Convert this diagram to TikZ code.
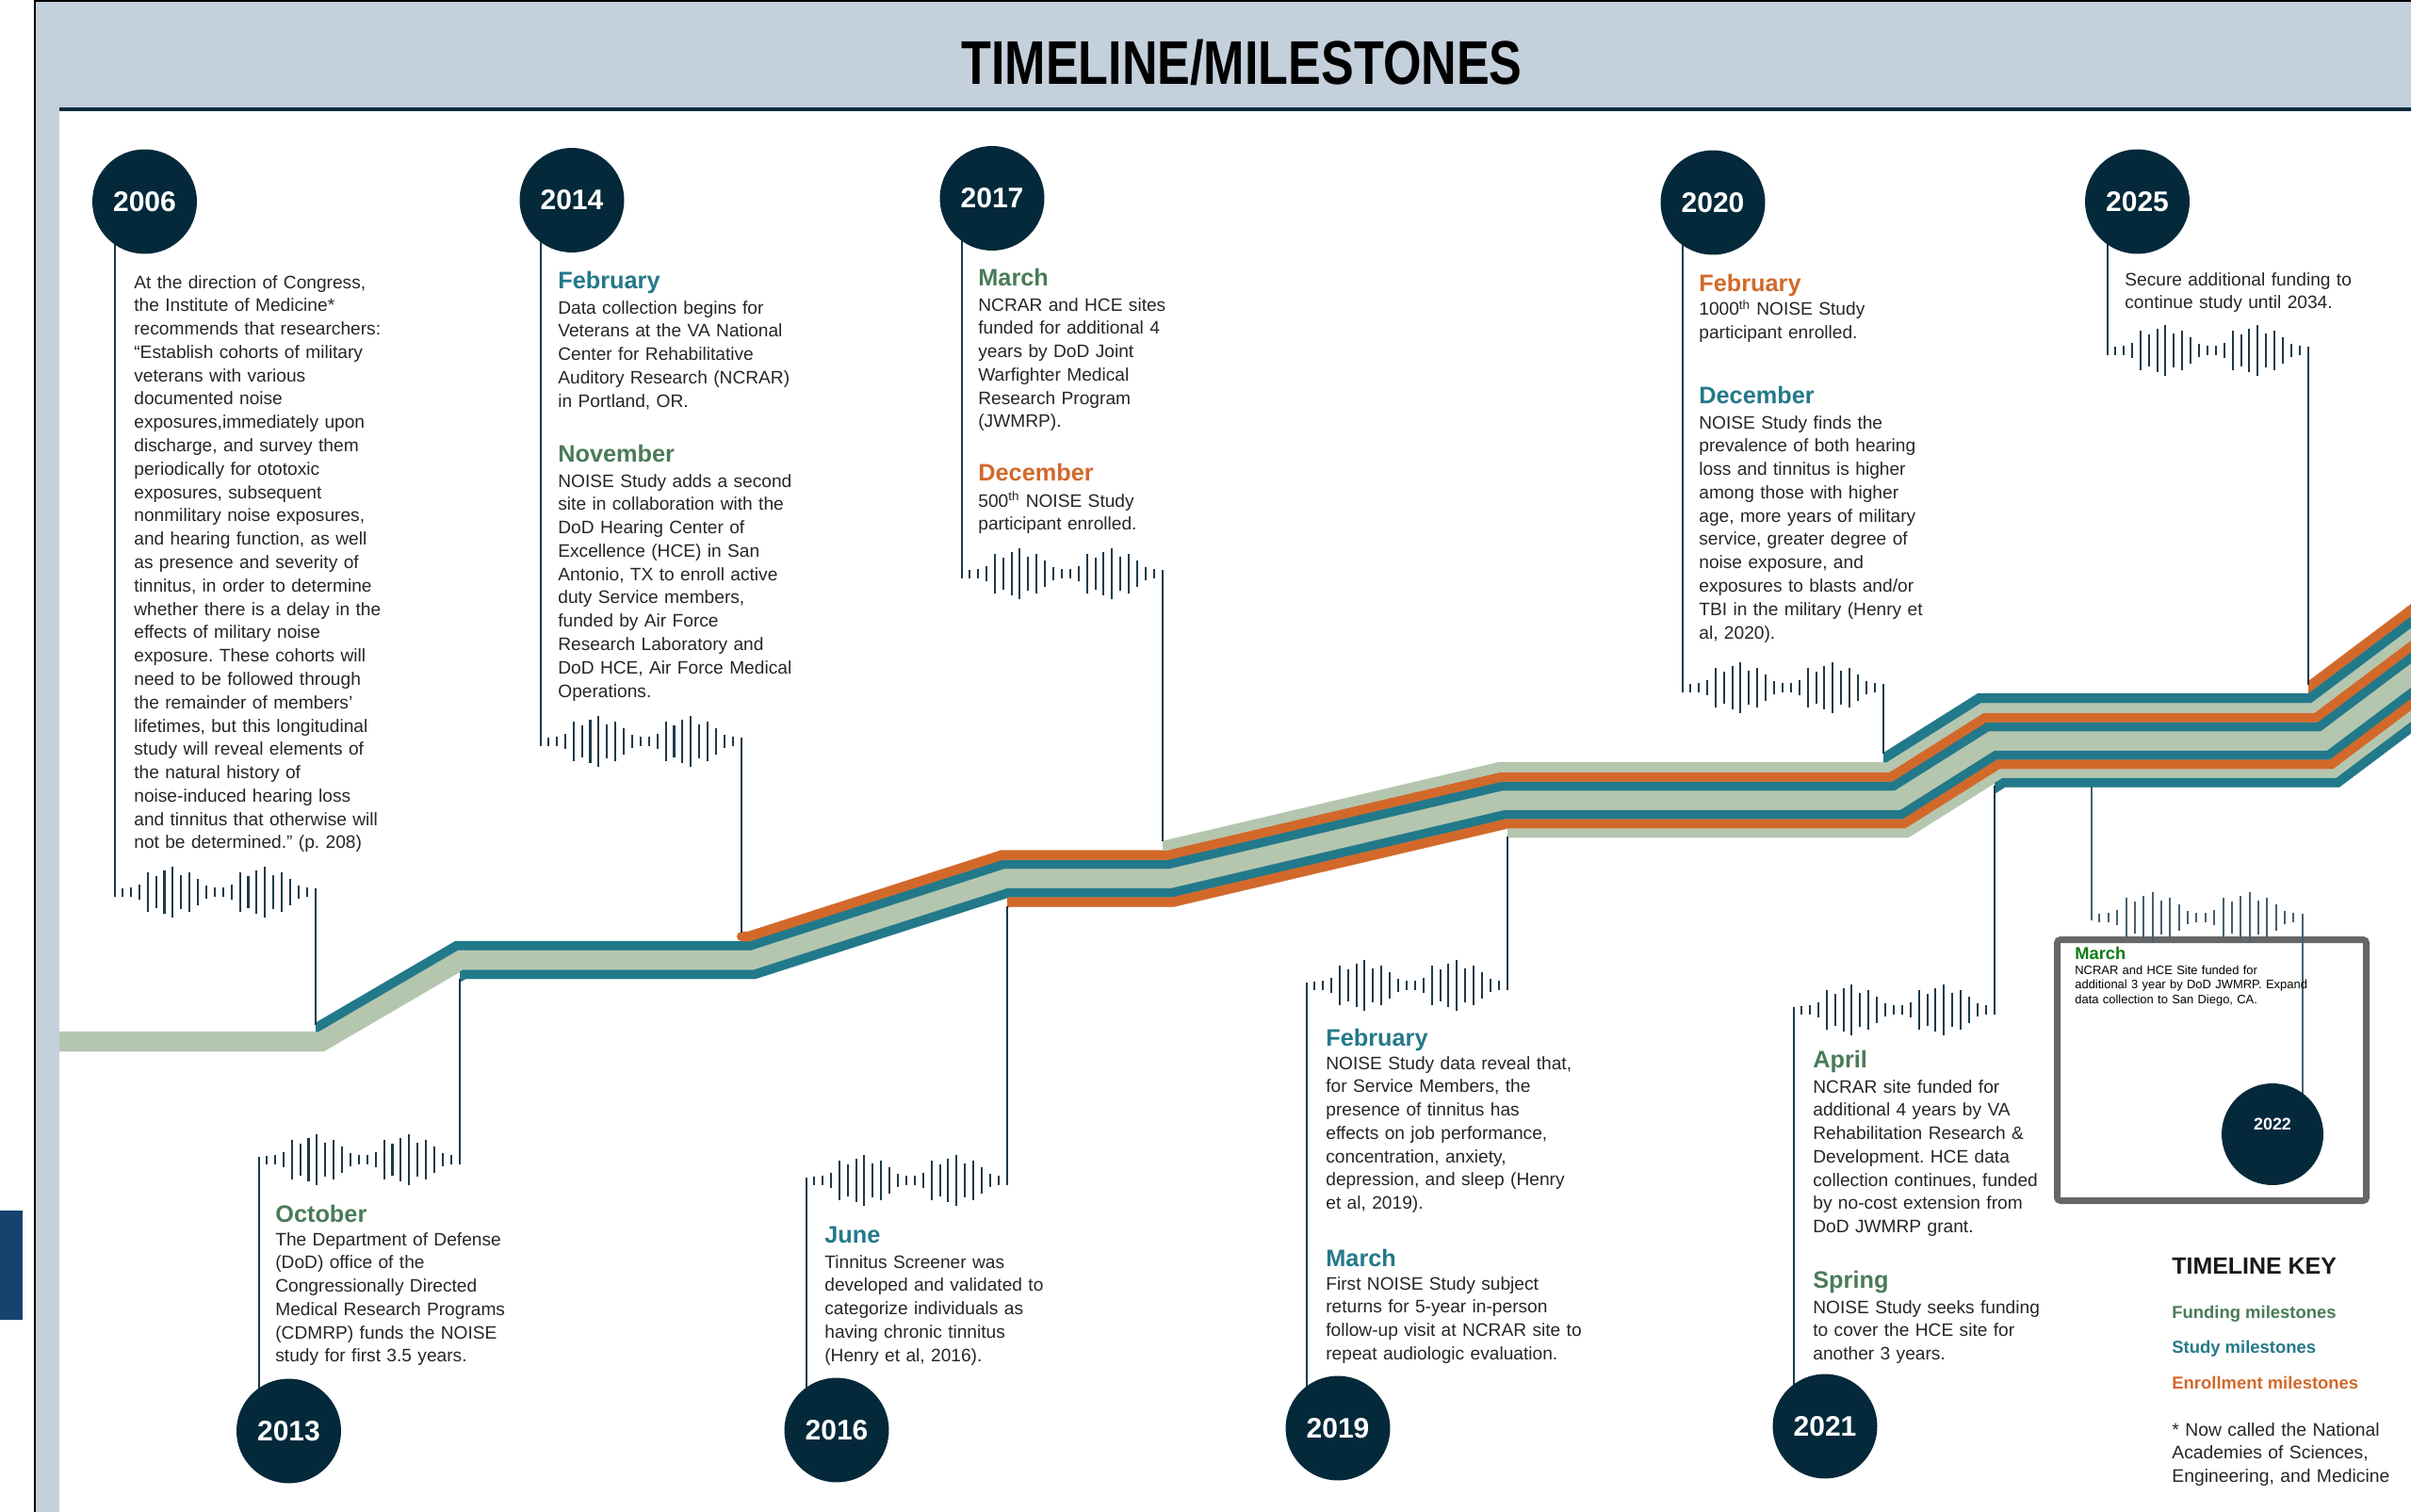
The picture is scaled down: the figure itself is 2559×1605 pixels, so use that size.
\documentclass[tikz,border=0pt]{standalone}
\usepackage{fontspec}
\setmainfont{Liberation Sans}
\usepackage{graphicx}
\frenchspacing

\definecolor{hdrblue}{HTML}{C4D0DC}
\definecolor{rulecol}{HTML}{0B2B3B}
\definecolor{tabblue}{HTML}{15436E}
\definecolor{navy}{HTML}{04293A}
\definecolor{linecol}{HTML}{1D3A4A}
\definecolor{linelight}{HTML}{46606F}
\definecolor{bteal}{HTML}{22798A}
\definecolor{borange}{HTML}{D2692A}
\definecolor{bsage}{HTML}{B5C6AF}
\definecolor{hgreen}{HTML}{4A7B57}
\definecolor{hteal}{HTML}{24798A}
\definecolor{horange}{HTML}{D2692A}
\definecolor{bodygray}{HTML}{262626}
\definecolor{boxgray}{HTML}{666666}
\definecolor{brightgreen}{HTML}{0E7A12}

\pgfdeclarelayer{under}
\pgfsetlayers{under,main}

% font sizes (1 unit = 0.02cm)
\newcommand\ftitle{\fontsize{37.3pt}{40pt}\selectfont\bfseries}
\newcommand\fbody{\fontsize{10.9pt}{14.11pt}\selectfont}
\newcommand\fhead{\fontsize{14.4pt}{17pt}\selectfont\bfseries}
\newcommand\fyear{\fontsize{17.1pt}{20pt}\selectfont\bfseries}
\newcommand\fyearsmall{\fontsize{10.2pt}{12pt}\selectfont\bfseries}
\newcommand\fkeyhead{\fontsize{14.2pt}{16pt}\selectfont\bfseries}
\newcommand\fkey{\fontsize{10.5pt}{13pt}\selectfont\bfseries}
\newcommand\fnote{\fontsize{11pt}{14.2pt}\selectfont}
\newcommand\fboxhead{\fontsize{10.4pt}{12pt}\selectfont\bfseries}
\newcommand\fboxbody{\fontsize{7.37pt}{9.1pt}\selectfont}

% one coloured strip of the stepped band, offset #2..#3 from the base line, starting at x=#4
\newcommand\bandstrip[4]{%
  \begin{scope}
    \clip (#4,118) rectangle (2559,1605);
    \filldraw[fill=#1, draw=#1, line width=0.2pt]
      (40,{1095+(#2)})
      -- ({338+0.2708*(#2)},{1095+(#2)})
      -- ({486+0.2708*(#2)},{1008.5+(#2)})
      -- ({797+0.1568*(#2)},{1008.5+(#2)})
      -- ({1066+0.1568*(#2)},{922+(#2)})
      -- ({1241+0.1157*(#2)},{922+(#2)})
      -- ({1595+0.1157*(#2)},{839+(#2)})
      -- ({2011+0.2887*(#2)},{839+(#2)})
      -- ({2111+0.2887*(#2)},{776+(#2)})
      -- ({2463+0.3337*(#2)},{776+(#2)})
      -- (2700,{598+1.2506*(#2)})
      -- (2700,{598+1.2506*(#3)})
      -- ({2463+0.3337*(#3)},{776+(#3)})
      -- ({2111+0.2887*(#3)},{776+(#3)})
      -- ({2011+0.2887*(#3)},{839+(#3)})
      -- ({1595+0.1157*(#3)},{839+(#3)})
      -- ({1241+0.1157*(#3)},{922+(#3)})
      -- ({1066+0.1568*(#3)},{922+(#3)})
      -- ({797+0.1568*(#3)},{1008.5+(#3)})
      -- ({486+0.2708*(#3)},{1008.5+(#3)})
      -- ({338+0.2708*(#3)},{1095+(#3)})
      -- (40,{1095+(#3)}) -- cycle;
  \end{scope}}

% sound-wave glyph: left end #1, centre line #2, horizontal scale #3, colour #4
\newcommand\wavemark[4]{%
  \foreach \i/\h in {0/9,1/10.7,2/16.7,3/41.3,4/34,5/46.7,6/54.7,7/36.7,8/41.3,9/28.3,10/13.3,11/10,12/10,13/16.7,14/41.3,15/34,16/46.7,17/53.3,18/36.7,19/41.3,20/28.3,21/14,22/10.7}
    \draw[wavebar,#4] ({#1+(8+8.9*\i)*#3},{#2-\h/2}) -- ++(0,\h);}

\begin{document}
\begin{tikzpicture}[x=0.02cm,y=-0.02cm,
  yearcirc/.style={circle, fill=navy, minimum size=2.22cm, inner sep=0pt, text=white, font=\fyear},
  head/.style={anchor=base west, inner sep=0pt, font=\fhead},
  body/.style={anchor=base west, inner sep=0pt, align=left, text width=9cm, font=\fbody, text=bodygray},
  conn/.style={draw=linecol, line width=1.1pt},
  connlight/.style={draw=linelight, line width=1.1pt},
  wavebar/.style={line width=1.15pt}]
\useasboundingbox (0,0) rectangle (2559,1605);

% ---------- year markers ----------
\node[yearcirc] (c06) at (153.5,214) {2006};
\node[yearcirc] (c14) at (607,212.5) {2014};
\node[yearcirc] (c17) at (1053,210.5) {2017};
\node[yearcirc] (c20) at (1818,215) {2020};
\node[yearcirc] (c25) at (2268.5,214) {2025};
\node[yearcirc] (c13) at (306.5,1519) {2013};
\node[yearcirc] (c16) at (888,1518) {2016};
\node[yearcirc] (c19) at (1420,1516) {2019};
\node[yearcirc] (c21) at (1937,1514) {2021};
\node[yearcirc, minimum size=2.16cm] (c22) at (2412,1204) {};
\node[text=white, font=\fyearsmall, inner sep=0pt] (t22) at (2412,1193) {2022};

% ---------- waveform end points and band attachment points ----------
\coordinate (w06a) at (122,952);  \coordinate (w06b) at (335,943);  \coordinate (s06) at (335,1088);
\coordinate (w14a) at (574,792);  \coordinate (w14b) at (787,783);  \coordinate (s14) at (787,990);
\coordinate (w17a) at (1021,614); \coordinate (w17b) at (1234,605); \coordinate (s17) at (1234,893);
\coordinate (w20a) at (1786,735); \coordinate (w20b) at (1999,726); \coordinate (s20) at (1999,800);
\coordinate (w25a) at (2237,377); \coordinate (w25b) at (2450,368); \coordinate (s25) at (2450,727);
\coordinate (w13a) at (275,1228); \coordinate (w13b) at (488,1236); \coordinate (s13) at (488,1039);
\coordinate (w16a) at (856,1250); \coordinate (w16b) at (1069,1258); \coordinate (s16) at (1069,962);
\coordinate (w19a) at (1387,1043); \coordinate (w19b) at (1600,1051); \coordinate (s19) at (1600,888);
\coordinate (w21a) at (1904,1069); \coordinate (w21b) at (2117,1077); \coordinate (s21) at (2117,834);
\coordinate (w22a) at (2220,977); \coordinate (w22b) at (2444,970); \coordinate (s22) at (2220,835);

\begin{pgfonlayer}{under}
  % page and frame
  \fill[white] (0,0) rectangle (2559,1605);
  \fill[hdrblue] (37,0) rectangle (2559,115);
  \fill[hdrblue] (37,0) rectangle (63,1605);
  \fill[rulecol] (63,114) rectangle (2559,118);
  \draw[black, line width=1.1pt] (37,1605) -- (37,1) -- (2559,1);
  \fill[tabblue] (0,1285) rectangle (24,1401);

  % stepped milestone band
  \bandstrip{bsage}{0}{21}{63}
  \bandstrip{bteal}{-9.5}{0}{335}
  \bandstrip{bteal}{21}{30.5}{488}
  \bandstrip{borange}{-19.5}{-9.5}{787}
  \fill[borange] (787,994) circle (5);
  \bandstrip{borange}{30.5}{40.5}{1069}
  \bandstrip{bsage}{-30}{-19.5}{1234}
  \bandstrip{bsage}{40.5}{50}{1600}
  \bandstrip{bteal}{-40}{-30}{1999}
  \bandstrip{bteal}{50}{59.5}{2117}
  \bandstrip{borange}{-50}{-40}{2450}

  % 2022 frame
  \draw[boxgray, line width=3.98pt, rounded corners=2pt] (2183.5,997.5) rectangle (2511.5,1274.5);

  % connectors
  \draw[conn] (w06a |- c06) -- (w06a);  \draw[conn] (w06b) -- (s06);
  \draw[conn] (w14a |- c14) -- (w14a);  \draw[conn] (w14b) -- (s14);
  \draw[conn] (w17a |- c17) -- (w17a);  \draw[conn] (w17b) -- (s17);
  \draw[conn] (w20a |- c20) -- (w20a);  \draw[conn] (w20b) -- (s20);
  \draw[conn] (w25a |- c25) -- (w25a);  \draw[conn] (w25b) -- (s25);
  \draw[conn] (w13a) -- (w13a |- c13);  \draw[conn] (w13b) -- (s13);
  \draw[conn] (w16a) -- (w16a |- c16);  \draw[conn] (w16b) -- (s16);
  \draw[conn] (w19a) -- (w19a |- c19);  \draw[conn] (w19b) -- (s19);
  \draw[conn] (w21a) -- (w21a |- c21);  \draw[conn] (w21b) -- (s21);
  \draw[connlight] (s22) -- (w22a);     \draw[connlight] (w22b) -- (w22b |- c22);

  % sound-wave glyphs
  \wavemark{122}{947}{1}{linecol}
  \wavemark{574}{787}{1}{linecol}
  \wavemark{1021}{609}{1}{linecol}
  \wavemark{1786}{730}{1}{linecol}
  \wavemark{2237}{372}{1}{linecol}
  \wavemark{275}{1231}{1}{linecol}
  \wavemark{856}{1253}{1}{linecol}
  \wavemark{1387}{1046}{1}{linecol}
  \wavemark{1904}{1072}{1}{linecol}
  \wavemark{2220}{974}{1.052}{linelight}
\end{pgfonlayer}

% ---------- title ----------
\node[anchor=base, inner sep=0pt, font=\ftitle, text=black] (title) at (1318,90)
  {\scalebox{0.795}[1]{TIMELINE/MILESTONES}};

% ---------- 2006 ----------
\node[body] (b06) at (142,306) {At the direction of Congress,\\
the Institute of Medicine*\\
recommends that researchers:\\
“Establish cohorts of military\\
veterans with various\\
documented noise\\
exposures,immediately upon\\
discharge, and survey them\\
periodically for ototoxic\\
exposures, subsequent\\
nonmilitary noise exposures,\\
and hearing function, as well\\
as presence and severity of\\
tinnitus, in order to determine\\
whether there is a delay in the\\
effects of military noise\\
exposure. These cohorts will\\
need to be followed through\\
the remainder of members’\\
lifetimes, but this longitudinal\\
study will reveal elements of\\
the natural history of\\
noise-induced hearing loss\\
and tinnitus that otherwise will\\
not be determined.” (p. 208)};

% ---------- 2014 ----------
\node[head, text=hteal] (h14a) at (592,306) {February};
\node[body] (b14a) at (592,333) {Data collection begins for\\
Veterans at the VA National\\
Center for Rehabilitative\\
Auditory Research (NCRAR)\\
in Portland, OR.};
\node[head, text=hgreen] (h14b) at (592,490) {November};
\node[body] (b14b) at (592,517) {NOISE Study adds a second\\
site in collaboration with the\\
DoD Hearing Center of\\
Excellence (HCE) in San\\
Antonio, TX to enroll active\\
duty Service members,\\
funded by Air Force\\
Research Laboratory and\\
DoD HCE, Air Force Medical\\
Operations.};

% ---------- 2017 ----------
\node[head, text=hgreen] (h17a) at (1038,303) {March};
\node[body] (b17a) at (1038,330) {NCRAR and HCE sites\\
funded for additional 4\\
years by DoD Joint\\
Warfighter Medical\\
Research Program\\
(JWMRP).};
\node[head, text=horange] (h17b) at (1038,510) {December};
\node[body] (b17b) at (1038,538) {500\textsuperscript{th} NOISE Study\\
participant enrolled.};

% ---------- 2020 ----------
\node[head, text=horange] (h20a) at (1803,309) {February};
\node[body] (b20a) at (1803,335) {1000\textsuperscript{th} NOISE Study\\
participant enrolled.};
\node[head, text=hteal] (h20b) at (1803,428) {December};
\node[body] (b20b) at (1803,455) {NOISE Study finds the\\
prevalence of both hearing\\
loss and tinnitus is higher\\
among those with higher\\
age, more years of military\\
service, greater degree of\\
noise exposure, and\\
exposures to blasts and/or\\
TBI in the military (Henry et\\
al, 2020).};

% ---------- 2025 ----------
\node[body] (b25) at (2255,303) {Secure additional funding to\\
continue study until 2034.};

% ---------- 2013 ----------
\node[head, text=hgreen] (h13) at (292,1297) {October};
\node[body] (b13) at (292,1322) {The Department of Defense\\
(DoD) office of the\\
Congressionally Directed\\
Medical Research Programs\\
(CDMRP) funds the NOISE\\
study for first 3.5 years.};

% ---------- 2016 ----------
\node[head, text=hteal] (h16) at (875,1319) {June};
\node[body] (b16) at (875,1346) {Tinnitus Screener was\\
developed and validated to\\
categorize individuals as\\
having chronic tinnitus\\
(Henry et al, 2016).};

% ---------- 2019 ----------
\node[head, text=hteal] (h19a) at (1407,1110) {February};
\node[body] (b19a) at (1407,1135) {NOISE Study data reveal that,\\
for Service Members, the\\
presence of tinnitus has\\
effects on job performance,\\
concentration, anxiety,\\
depression, and sleep (Henry\\
et al, 2019).};
\node[head, text=hteal] (h19b) at (1407,1344) {March};
\node[body] (b19b) at (1407,1369) {First NOISE Study subject\\
returns for 5-year in-person\\
follow-up visit at NCRAR site to\\
repeat audiologic evaluation.};

% ---------- 2021 ----------
\node[head, text=hgreen] (h21a) at (1924,1133) {April};
\node[body] (b21a) at (1924,1160) {NCRAR site funded for\\
additional 4 years by VA\\
Rehabilitation Research \&\\
Development. HCE data\\
collection continues, funded\\
by no-cost extension from\\
DoD JWMRP grant.};
\node[head, text=hgreen] (h21b) at (1924,1367) {Spring};
\node[body] (b21b) at (1924,1394) {NOISE Study seeks funding\\
to cover the HCE site for\\
another 3 years.};

% ---------- 2022 ----------
\node[anchor=base west, inner sep=0pt, font=\fboxhead, text=brightgreen] (h22) at (2202,1018) {March};
\node[body, font=\fboxbody, text=black] (b22) at (2202,1034) {NCRAR and HCE Site funded for\\
additional 3 year by DoD JWMRP. Expand\\
data collection to San Diego, CA.};

% ---------- key ----------
\node[anchor=base west, inner sep=0pt, font=\fkeyhead, text=black!90] (keyhead) at (2305,1352) {TIMELINE KEY};
\node[anchor=base west, inner sep=0pt, font=\fkey, text=hgreen] (keyfund) at (2305,1399) {Funding milestones};
\node[anchor=base west, inner sep=0pt, font=\fkey, text=hteal] (keystudy) at (2305,1436) {Study milestones};
\node[anchor=base west, inner sep=0pt, font=\fkey, text=horange] (keyenrol) at (2305,1474) {Enrollment milestones};
\node[body, font=\fnote] (keynote) at (2305,1524) {* Now called the National\\
Academies of Sciences,\\
Engineering, and Medicine};
\end{tikzpicture}
\end{document}
